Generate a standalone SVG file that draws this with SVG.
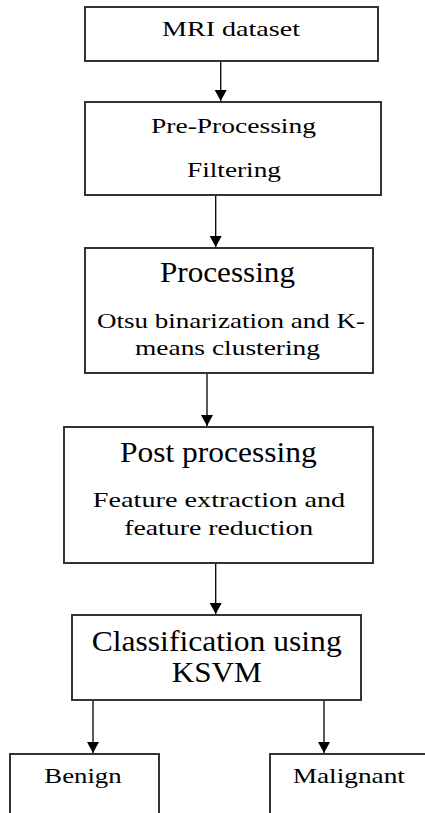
<svg xmlns="http://www.w3.org/2000/svg" width="425" height="813" viewBox="0 0 425 813">
<style>
.box{fill:#fff;stroke:#333;stroke-width:2}
.c{stroke:#000;stroke-width:1.3;fill:none;marker-end:url(#ah)}
</style>
<defs>
<marker id="ah" markerUnits="userSpaceOnUse" markerWidth="12" markerHeight="13" refX="11" refY="6" orient="auto" viewBox="0 0 12 12">
<path d="M0,0 L11,6 L0,12 z" fill="#000"/>
</marker>
</defs>
<rect width="425" height="813" fill="#fff"/>
<g id="connectors">
<line class="c" x1="220.7" y1="61" x2="220.7" y2="101"/>
<line class="c" x1="215.7" y1="195" x2="215.7" y2="247"/>
<line class="c" x1="207" y1="373" x2="207" y2="426"/>
<line class="c" x1="215.7" y1="563" x2="215.7" y2="614"/>
<line class="c" x1="93" y1="700" x2="93" y2="753"/>
<line class="c" x1="324" y1="700" x2="324" y2="753"/>
</g>
<g font-family="Times New Roman, Liberation Serif, DejaVu Serif, serif" text-anchor="middle" fill="#000" lengthAdjust="spacingAndGlyphs">
<g id="mri">
<rect class="box" x="85" y="7" width="293" height="54"/>
<text font-size="22" x="231" y="36" textLength="138" lengthAdjust="spacingAndGlyphs">MRI dataset</text>
</g>
<g id="preprocessing">
<rect class="box" x="85" y="102" width="296" height="93"/>
<text font-size="22" x="233.5" y="132.7" textLength="165" lengthAdjust="spacingAndGlyphs">Pre-Processing</text>
<text font-size="22" x="234" y="176.7" textLength="94" lengthAdjust="spacingAndGlyphs">Filtering</text>
</g>
<g id="processing">
<rect class="box" x="85" y="248" width="288" height="125"/>
<text font-size="29" x="227.5" y="282.3" textLength="135" lengthAdjust="spacingAndGlyphs">Processing</text>
<text font-size="22" x="231" y="328.3" textLength="268" lengthAdjust="spacingAndGlyphs">Otsu binarization and K-</text>
<text font-size="22" x="227.5" y="355" textLength="185" lengthAdjust="spacingAndGlyphs">means clustering</text>
</g>
<g id="postprocessing">
<rect class="box" x="64" y="427" width="309" height="136"/>
<text font-size="29" x="218.3" y="461.7" textLength="196.7" lengthAdjust="spacingAndGlyphs">Post processing</text>
<text font-size="22" x="219" y="507.3" textLength="252.3" lengthAdjust="spacingAndGlyphs">Feature extraction and</text>
<text font-size="22" x="218.7" y="535" textLength="189" lengthAdjust="spacingAndGlyphs">feature reduction</text>
</g>
<g id="classification">
<rect class="box" x="72" y="615" width="289" height="85"/>
<text font-size="29" x="216.7" y="650.7" textLength="250" lengthAdjust="spacingAndGlyphs">Classification using</text>
<text font-size="29" x="216.7" y="681.7" textLength="90" lengthAdjust="spacingAndGlyphs">KSVM</text>
</g>
<g id="benign">
<rect class="box" x="10" y="754" width="149" height="100"/>
<text font-size="22" x="83" y="782.7" textLength="77.3" lengthAdjust="spacingAndGlyphs">Benign</text>
</g>
<g id="malignant">
<rect class="box" x="270" y="754" width="170" height="100"/>
<text font-size="22" x="348.8" y="782.7" textLength="112.3" lengthAdjust="spacingAndGlyphs">Malignant</text>
</g>
</g>
</svg>
